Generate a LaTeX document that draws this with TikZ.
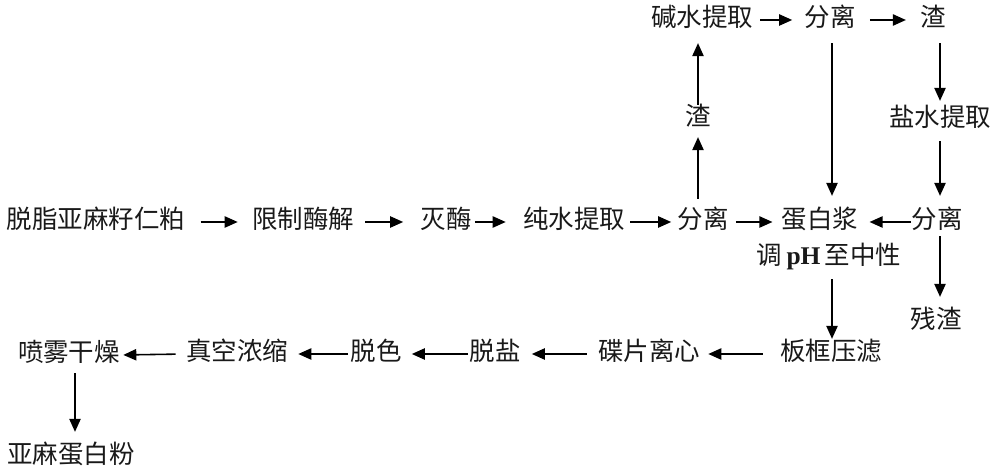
\documentclass[tikz,border=0pt]{standalone}
\usepackage{fontspec}
\setmainfont{Noto Sans CJK SC}
\newfontfamily\latinserif{Liberation Serif}
\usetikzlibrary{arrows.meta}
\begin{document}
\begin{tikzpicture}[x=0.02cm,y=-0.02cm,
  lbl/.style={inner sep=0pt, text height=0.85em, text depth=0.15em,
    font=\fontsize{14.5pt}{17pt}\selectfont, text=black!90},
  arr/.style={-{Triangle[length=7.4pt,width=6.4pt]}, line width=0.9pt, draw=black}]
\useasboundingbox (0,0) rectangle (1000,475);
% main row
\node[lbl] (a1) at (96,222) {脱脂亚麻籽仁粕};
\node[lbl] (a2) at (303,222) {限制酶解};
\node[lbl] (a3) at (446,222) {灭酶};
\node[lbl] (a4) at (574,222) {纯水提取};
\node[lbl] (a5) at (703,222) {分离};
\node[lbl] (a6) at (820,222) {蛋白浆};
\node[lbl] (a7) at (937,222) {分离};
\node[lbl] (ph) at (829,258) {调\,{\latinserif\bfseries pH}\,至中性};
% top row
\node[lbl] (t1) at (702,20) {碱水提取};
\node[lbl] (t2) at (830,20) {分离};
\node[lbl] (t3) at (933,20) {渣};
% middle
\node[lbl] (m1) at (698,119) {渣};
\node[lbl] (m2) at (940,120) {盐水提取};
\node[lbl] (r) at (936,322) {残渣};
% bottom row
\node[lbl] (b1) at (831,354) {板框压滤};
\node[lbl] (b2) at (649,354) {碟片离心};
\node[lbl] (b3) at (495,354) {脱盐};
\node[lbl] (b4) at (376,354) {脱色};
\node[lbl] (b5) at (237,354) {真空浓缩};
\node[lbl] (b6) at (69,355) {喷雾干燥};
\node[lbl] (e) at (71,457) {亚麻蛋白粉};
% horizontal arrows, main row
\draw[arr, shorten <=15*0.02cm, shorten >=14*0.02cm] (a1.east) -- (a2.west);
\draw[arr, shorten <=11*0.02cm, shorten >=17*0.02cm] (a2.east) -- (a3.west);
\draw[arr, shorten <=3*0.02cm, shorten >=17*0.02cm] (a3.east) -- (a4.west);
\draw[arr, shorten <=5*0.02cm, shorten >=6*0.02cm] (a4.east) -- (a5.west);
\draw[arr, shorten <=7*0.02cm, shorten >=9*0.02cm] (a5.east) -- (a6.west);
\draw[arr, shorten <=0*0.02cm, shorten >=11*0.02cm] (a7.west) -- (a6.east);
% top row
\draw[arr, shorten <=7*0.02cm, shorten >=12*0.02cm] (t1.east) -- (t2.west);
\draw[arr, shorten <=14*0.02cm, shorten >=14*0.02cm] (t2.east) -- (t3.west);
% bottom row
\draw[arr, shorten <=17*0.02cm, shorten >=8*0.02cm] (b1.west) -- (b2.east);
\draw[arr, shorten <=11*0.02cm, shorten >=11*0.02cm] (b2.west) -- (b3.east);
\draw[arr, shorten <=1*0.02cm, shorten >=10*0.02cm] (b3.west) -- (b4.east);
\draw[arr, shorten <=2*0.02cm, shorten >=10*0.02cm] (b4.west) -- (b5.east);
\draw[arr, shorten <=10*0.02cm, shorten >=3*0.02cm] (b5.west) -- (b6.east);
% vertical arrows
\draw[arr, shorten <=14*0.02cm, shorten >=9*0.02cm] (m1.south |- a5.north) -- (m1.south);
\draw[arr, shorten <=5*0.02cm, shorten >=14*0.02cm] (m1.north) -- (m1.north |- t1.south);
\draw[arr, shorten <=14*0.02cm, shorten >=17*0.02cm] ([xshift=2*0.02cm]t2.south) -- ([xshift=2*0.02cm]t2.south |- a6.north);
\draw[arr, shorten <=14*0.02cm, shorten >=10*0.02cm] (m2.north |- t3.south) -- (m2.north);
\draw[arr, shorten <=12*0.02cm, shorten >=17*0.02cm] (m2.south) -- (m2.south |- a7.north);
\draw[arr, shorten <=5*0.02cm, shorten >=16*0.02cm] ([xshift=3*0.02cm]a7.south) -- ([xshift=3*0.02cm]a7.south |- r.north);
\draw[arr, shorten <=12*0.02cm, shorten >=6*0.02cm] ([xshift=3*0.02cm]ph.south) -- ([xshift=3*0.02cm]ph.south |- b1.north);
\draw[arr, shorten <=9*0.02cm, shorten >=16*0.02cm] ([xshift=6*0.02cm]b6.south) -- ([xshift=6*0.02cm]b6.south |- e.north);
\end{tikzpicture}
\end{document}
